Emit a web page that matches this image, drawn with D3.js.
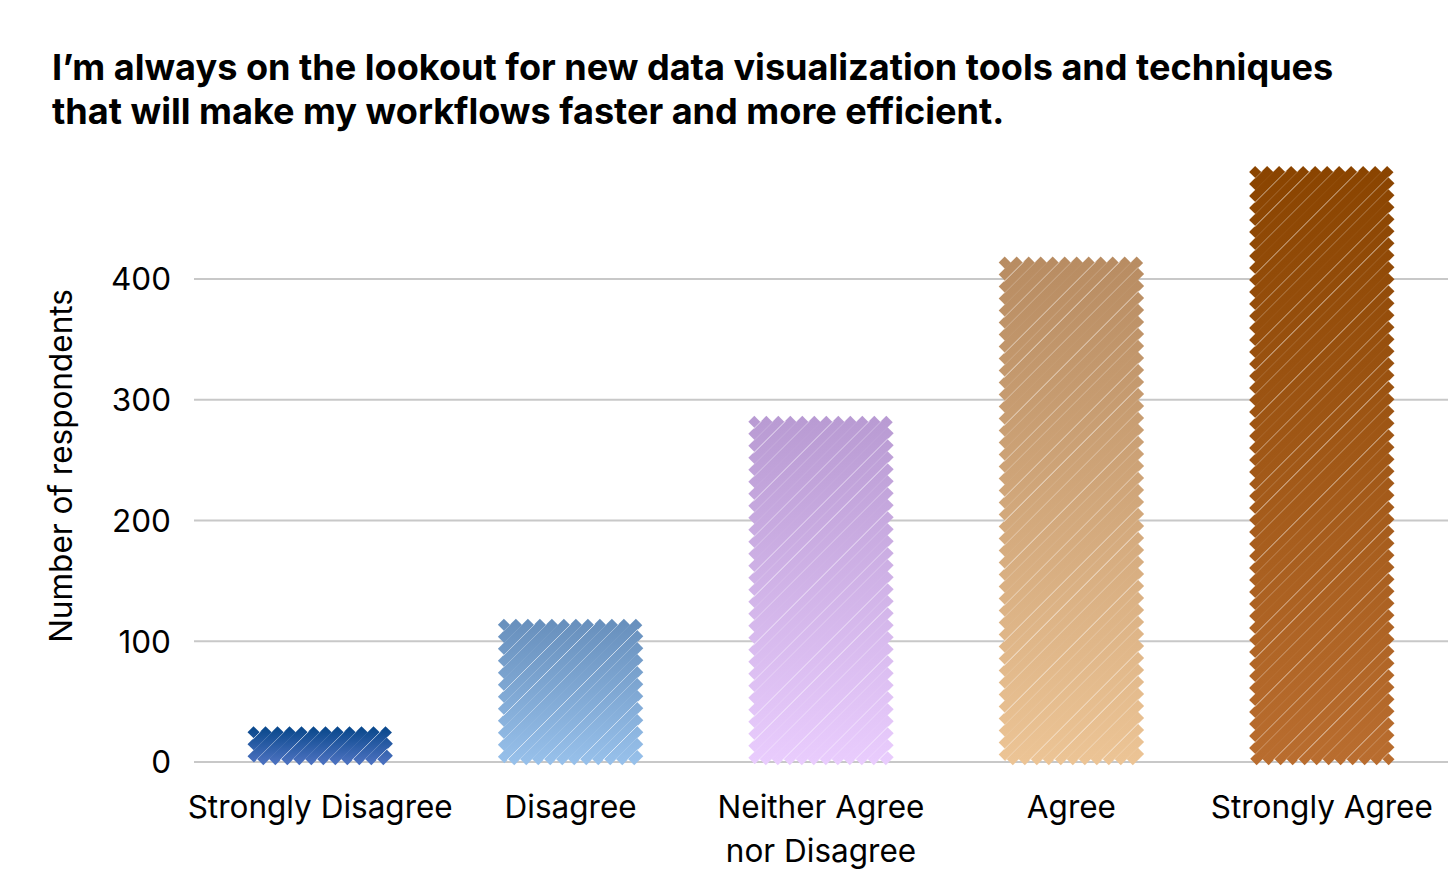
<!DOCTYPE html>
<html>
<head>
<meta charset="utf-8">
<script src="https://cdn.jsdelivr.net/npm/d3@7"></script>
<style>
  html, body { margin: 0; padding: 0; background: #fff; }
  svg { display: block; font-family: Inter, "Noto Sans", sans-serif; }
</style>
</head>
<body>
<svg id="chart" width="1452" height="876"></svg>
<script>
const titleLines = [
  "I’m always on the lookout for new data visualization tools and techniques",
  "that will make my workflows faster and more efficient."
];
const categories = [["Strongly Disagree"], ["Disagree"], ["Neither Agree", "nor Disagree"], ["Agree"], ["Strongly Agree"]];
const values = [27, 116, 284, 416, 491];
const yTicks = [0, 100, 200, 300, 400];
const yTitle = "Number of respondents";
const topColors = ["#0c4a8e", "#6890bd", "#b99bd3", "#b88c62", "#8a4400"];
const bottomColors = ["#4a70be", "#97c0ea", "#e9ccfd", "#ecc495", "#b96d2f"];

const svg = d3.select("#chart");
const defs = svg.append("defs");

const x = d3.scaleBand().domain(d3.range(categories.length)).range([195, 1447])
  .paddingInner(0.445).paddingOuter(0.2225);
const y = d3.scaleLinear().domain([0, 400]).range([762, 279]);

const FS = 31.5;

// title
const title = svg.append("g").attr("font-weight", 700).attr("fill", "#000");
const t1 = title.append("text").attr("x", 52).attr("y", 80).attr("font-size", 34).text(titleLines[0]);
const w = t1.node().getComputedTextLength();
const fs = 34 * 1282 / w;
t1.attr("font-size", fs);
title.append("text").attr("x", 52).attr("y", 124).attr("font-size", fs).text(titleLines[1]);

// gridlines
svg.append("g").selectAll("line").data(yTicks).join("line")
  .attr("x1", 194).attr("x2", 1448)
  .attr("y1", d => y(d)).attr("y2", d => y(d))
  .attr("stroke", "#c8c8c8").attr("stroke-width", 2);

// y axis labels
svg.append("g").selectAll("text").data(yTicks).join("text")
  .attr("x", 171).attr("y", d => y(d)).attr("dy", "0.36em")
  .attr("text-anchor", "end").attr("font-size", FS).attr("fill", "#000")
  .text(d => d);

// y title
svg.append("text")
  .attr("transform", "translate(72,466) rotate(-90)")
  .attr("text-anchor", "middle").attr("font-size", FS).attr("fill", "#000")
  .text(yTitle);

// bars drawn as thick diagonal strokes
const d = 12;
const sw = d / Math.SQRT2 + 0.6;
const whiteOp = [0.7, 0.15, 0.4, 0.05, 0.65, 0.25, 0.1, 0.5, 0.3, 0.05, 0.6, 0.2];

values.forEach((v, i) => {
  const x0 = x(i), x1 = x(i) + x.bandwidth();
  const yt = y(v), yb = y(0);
  const gid = "g" + i;
  const grad = defs.append("linearGradient").attr("id", gid)
    .attr("gradientUnits", "userSpaceOnUse")
    .attr("x1", 0).attr("x2", 0).attr("y1", yt).attr("y2", yb);
  grad.append("stop").attr("offset", 0).attr("stop-color", topColors[i]);
  grad.append("stop").attr("offset", 1).attr("stop-color", bottomColors[i]);

  const segs = [];
  for (let c = x0 + yt + d / 2; c < x1 + yb; c += d) {
    const xa = Math.max(x0, c - yb), xb = Math.min(x1, c - yt);
    if (xb - xa < 0.5) continue;
    segs.push({ xa, ya: c - xa, xb, yb: c - xb, c });
  }
  const g = svg.append("g");
  g.selectAll("line.s").data(segs).join("line").attr("class", "s")
    .attr("x1", s => s.xa).attr("y1", s => s.ya)
    .attr("x2", s => s.xb).attr("y2", s => s.yb)
    .attr("stroke", `url(#${gid})`).attr("stroke-width", sw)
    .attr("stroke-linecap", "butt");
  // thin white gaps between strokes
  const gaps = [];
  for (let k = 0; k < segs.length - 1; k++) {
    const c = segs[k].c + d / 2;
    const xa = Math.max(x0, c - yb), xb = Math.min(x1, c - yt);
    if (xb - xa < 4) continue;
    gaps.push({ xa, ya: c - xa, xb, yb: c - xb, op: whiteOp[(k + i * 5) % whiteOp.length] });
  }
  g.selectAll("line.w").data(gaps).join("line").attr("class", "w")
    .attr("x1", s => s.xa + 2).attr("y1", s => s.ya - 2)
    .attr("x2", s => s.xb - 2).attr("y2", s => s.yb + 2)
    .attr("stroke", "#fff").attr("stroke-width", 1)
    .attr("stroke-opacity", s => s.op);
});

// x labels
const xl = svg.append("g");
categories.forEach((lines, i) => {
  const cx = x(i) + x.bandwidth() / 2;
  const t = xl.append("text").attr("text-anchor", "middle").attr("font-size", FS).attr("fill", "#000");
  lines.forEach((ln, j) => {
    t.append("tspan").attr("x", cx).attr("y", 818 + j * 44).text(ln);
  });
});
</script>
</body>
</html>
